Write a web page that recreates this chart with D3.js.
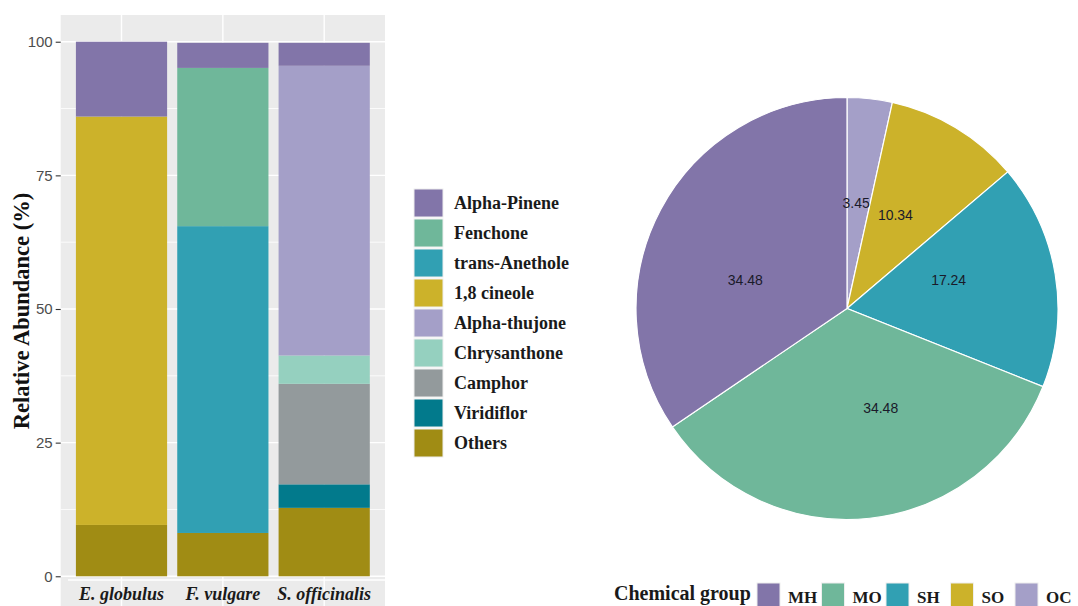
<!DOCTYPE html>
<html>
<head>
<meta charset="utf-8">
<script src="https://cdn.jsdelivr.net/npm/d3@7"></script>
<style>
  html, body { margin: 0; padding: 0; background: #ffffff; }
  svg { display: block; }
</style>
</head>
<body>
<svg id="chart" width="1078" height="606"></svg>
<script>
// ---------- DATA ----------
const categories = ["E. globulus", "F. vulgare", "S. officinalis"];
const compounds = ["Alpha-Pinene", "Fenchone", "trans-Anethole", "1,8 cineole", "Alpha-thujone", "Chrysanthone", "Camphor", "Viridiflor", "Others"];
const alphaPinene   = [14.0, 4.7, 4.3];
const fenchone      = [0, 29.6, 0];
const transAnethole = [0, 57.4, 0];
const cineole       = [76.4, 0, 0];
const alphaThujone  = [0, 0, 54.2];
const chrysanthone  = [0, 0, 5.3];
const camphor       = [0, 0, 18.8];
const viridiflor    = [0, 0, 4.4];
const others        = [9.6, 8.1, 12.8];
const compoundColors = ["#8275a9", "#6fb79a", "#31a0b3", "#ccb22a", "#a49fc8", "#95d0bf", "#939a9c", "#027a8c", "#a08c14"];
const yTicks = [0, 25, 50, 75, 100];

const groups = ["MH", "MO", "SH", "SO", "OC"];
const groupValues = [34.48, 34.48, 17.24, 10.34, 3.45];
const groupColors = ["#8275a9", "#6fb79a", "#31a0b3", "#ccb22a", "#a49fc8"];

// ---------- SETUP ----------
const svg = d3.select("#chart");
const serif = "'Liberation Serif', 'Times New Roman', serif";
const sans = "'Liberation Sans', Arial, sans-serif";

const seriesByCompound = [alphaPinene, fenchone, transAnethole, cineole, alphaThujone, chrysanthone, camphor, viridiflor, others];
const table = categories.map((c, i) => {
  const row = { cat: c };
  compounds.forEach((k, j) => row[k] = seriesByCompound[j][i]);
  return row;
});
const color = d3.scaleOrdinal().domain(compounds).range(compoundColors);

// ---------- BAR PANEL ----------
const panel = { left: 60.7, right: 385, top: 15, bottom: 603 };
const x = d3.scalePoint().domain(categories).range([panel.left, panel.right]).padding(0.6);
const barW = x.step() * 0.9;
const y = d3.scaleLinear().domain([-5, 105]).range([panel.bottom, panel.top]);

svg.append("rect")
  .attr("x", panel.left).attr("y", panel.top)
  .attr("width", panel.right - panel.left).attr("height", 606 - panel.top)
  .attr("fill", "#ebebeb");

// minor grid
const minor = [12.5, 37.5, 62.5, 87.5];
svg.append("g").selectAll("line").data(minor).join("line")
  .attr("x1", panel.left).attr("x2", panel.right)
  .attr("y1", d => y(d)).attr("y2", d => y(d))
  .attr("stroke", "#ffffff").attr("stroke-width", 0.8);
// major grid
svg.append("g").selectAll("line").data(yTicks).join("line")
  .attr("x1", panel.left).attr("x2", panel.right)
  .attr("y1", d => y(d)).attr("y2", d => y(d))
  .attr("stroke", "#ffffff").attr("stroke-width", 1.4);
svg.append("g").selectAll("line").data(categories).join("line")
  .attr("x1", d => x(d)).attr("x2", d => x(d))
  .attr("y1", panel.top).attr("y2", 606)
  .attr("stroke", "#ffffff").attr("stroke-width", 1.4);

// stacked bars (bottom = Others)
const stackKeys = compounds.slice().reverse();
const stacked = d3.stack().keys(stackKeys)(table);
svg.append("g").selectAll("g").data(stacked).join("g")
  .attr("fill", d => color(d.key))
  .selectAll("rect").data(d => d.filter(s => s[1] - s[0] > 0)).join("rect")
  .attr("x", d => x(d.data.cat) - barW / 2)
  .attr("width", barW)
  .attr("y", d => y(d[1]))
  .attr("height", d => y(d[0]) - y(d[1]));

// white strip line above the x labels
svg.append("line")
  .attr("x1", 68).attr("x2", panel.right)
  .attr("y1", 580).attr("y2", 580)
  .attr("stroke", "#ffffff").attr("stroke-width", 1.6);

// y axis
const yAxis = d3.axisLeft(y).tickValues(yTicks).tickSize(5).tickPadding(3);
const gy = svg.append("g").attr("transform", `translate(${panel.left},0)`).call(yAxis);
gy.select(".domain").remove();
gy.selectAll(".tick line").attr("stroke", "#333333").attr("stroke-width", 1.1);
gy.selectAll(".tick text").attr("fill", "#4d4d4d").style("font-family", sans).style("font-size", "15px");

// x labels
svg.append("g").selectAll("text").data(categories).join("text")
  .attr("x", d => x(d)).attr("y", 600)
  .attr("text-anchor", "middle")
  .style("font-family", serif).style("font-size", "18px")
  .style("font-style", "italic").style("font-weight", "bold")
  .attr("fill", "#1a1a1a")
  .text(d => d);

// y title
svg.append("text")
  .attr("transform", `translate(29, ${(panel.top + panel.bottom) / 2 + 2}) rotate(-90)`)
  .attr("text-anchor", "middle")
  .style("font-family", serif).style("font-size", "22.5px").style("font-weight", "bold")
  .attr("fill", "#111111")
  .text("Relative Abundance (%)");

// compound legend
const legY = d3.scalePoint().domain(compounds).range([189, 429]);
const leg = svg.append("g").selectAll("g").data(compounds).join("g")
  .attr("transform", d => `translate(414, ${legY(d)})`);
leg.append("rect").attr("width", 29).attr("height", 28)
  .attr("fill", d => color(d)).attr("stroke", "#eeeeee").attr("stroke-width", 1);
leg.append("text").attr("x", 40).attr("y", 14).attr("dy", "0.35em")
  .style("font-family", serif).style("font-size", "18px").style("font-weight", "bold")
  .attr("fill", "#1a1a1a").text(d => d);

// ---------- PIE ----------
const cx = 847, cy = 308.5, R = 211;
const pieData = groups.map((g, i) => ({ g, v: groupValues[i], c: groupColors[i] })).reverse();
const pie = d3.pie().sort(null).value(d => d.v);
const arcs = pie(pieData);
const arc = d3.arc().innerRadius(0).outerRadius(R);
const pg = svg.append("g").attr("transform", `translate(${cx},${cy})`);
pg.selectAll("path").data(arcs).join("path")
  .attr("d", arc).attr("fill", d => d.data.c)
  .attr("stroke", "#ffffff").attr("stroke-width", 1.2);
const lr = R / 2;
pg.selectAll("text").data(arcs).join("text")
  .attr("x", d => lr * Math.sin(d.startAngle + 0.4 * (d.endAngle - d.startAngle)))
  .attr("y", d => -lr * Math.cos(d.startAngle + 0.4 * (d.endAngle - d.startAngle)))
  .attr("text-anchor", "middle").attr("dy", "0.35em")
  .style("font-family", sans).style("font-size", "14px")
  .attr("fill", "#1a1a2a")
  .text(d => d.data.v.toFixed(2));

// group legend
svg.append("text").attr("x", 614).attr("y", 600)
  .style("font-family", serif).style("font-size", "20px").style("font-weight", "bold")
  .attr("fill", "#1a1a1a").text("Chemical group");
const gx = d3.scaleLinear().domain([0, groups.length - 1]).range([757, 1015]);
const gl = svg.append("g").selectAll("g").data(groups).join("g")
  .attr("transform", (d, i) => `translate(${gx(i)}, 583)`);
gl.append("rect").attr("width", 23).attr("height", 26)
  .attr("fill", (d, i) => groupColors[i]).attr("stroke", "#eeeeee");
gl.append("text").attr("x", 31).attr("y", 20)
  .style("font-family", serif).style("font-size", "17px").style("font-weight", "bold")
  .attr("fill", "#1a1a1a").text(d => d);
</script>
</body>
</html>
